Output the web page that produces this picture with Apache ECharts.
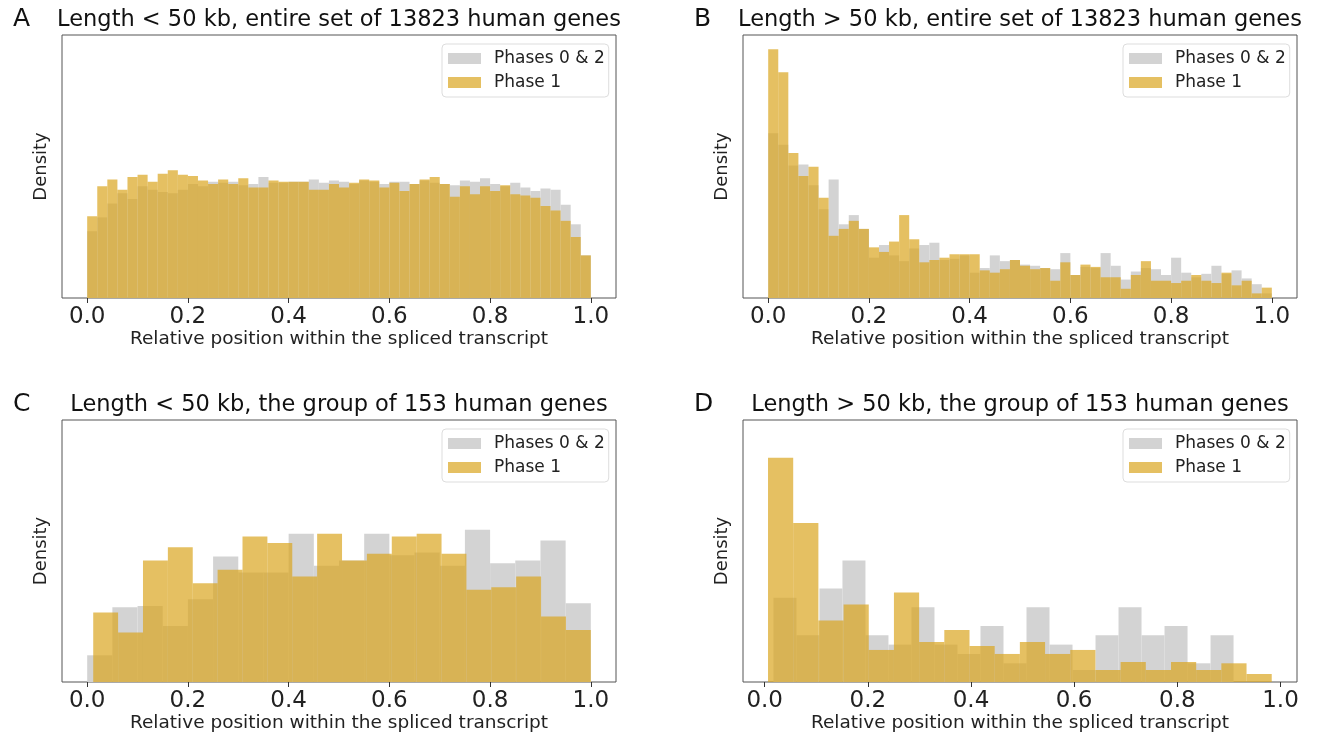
<!DOCTYPE html>
<html>
<head>
  <meta charset="utf-8">
  <title>Intron phase histograms</title>
  <script src="https://cdn.jsdelivr.net/npm/echarts@6.0.0/dist/echarts.min.js"></script>
</head>
<body style="margin:0;background:#fff">
  <div id="main" style="width:1323px;height:736px;"></div>
  <script type="text/javascript">
    // bin ranges [first edge, last edge], 50 or 20 equal bins each
    var rangeA = [0, 1], rangeB = [0, 1];
    var rangeGrayC = [0, 1], rangeGoldC = [0.012, 1];
    var rangeGrayD = [0.017, 0.909], rangeGoldD = [0.0065, 0.983];

    // densities
    var grayA = [0.58,0.70,0.82,0.91,0.86,0.97,0.94,0.92,0.91,0.94,
                 0.99,0.97,1.01,1.00,1.01,0.98,0.99,1.05,1.00,1.00,
                 1.01,1.01,1.03,1.00,1.02,1.01,0.99,1.02,1.01,0.99,
                 1.01,1.01,0.99,1.02,1.00,0.99,0.98,1.02,1.01,1.04,
                 0.99,0.97,1.00,0.96,0.93,0.95,0.94,0.81,0.64,0.37];
    var goldA = [0.71,0.97,1.03,0.94,1.05,1.07,1.01,1.08,1.11,1.07,
                 1.06,1.02,0.99,1.03,0.99,1.04,0.96,0.96,1.02,1.01,
                 1.01,1.01,0.94,0.94,0.99,0.96,1.00,1.03,1.02,0.96,
                 1.00,0.93,0.99,1.03,1.05,0.99,0.88,0.97,0.90,0.97,
                 0.93,0.98,0.90,0.89,0.87,0.80,0.76,0.67,0.53,0.37];
    var grayB = [1.43,1.33,1.15,1.16,0.98,0.77,1.03,0.64,0.72,0.60,
                 0.35,0.46,0.37,0.32,0.43,0.46,0.48,0.33,0.34,0.37,
                 0.22,0.26,0.37,0.32,0.33,0.29,0.28,0.26,0.25,0.39,
                 0.20,0.27,0.26,0.39,0.28,0.16,0.23,0.26,0.25,0.20,
                 0.35,0.22,0.18,0.21,0.28,0.21,0.24,0.17,0.12,0.04];
    var goldB = [2.16,1.96,1.26,1.06,1.14,0.87,0.54,0.60,0.67,0.60,
                 0.44,0.40,0.49,0.72,0.51,0.31,0.33,0.35,0.38,0.38,
                 0.38,0.24,0.22,0.25,0.33,0.28,0.25,0.26,0.15,0.31,
                 0.20,0.29,0.27,0.18,0.18,0.08,0.20,0.32,0.15,0.15,
                 0.13,0.15,0.20,0.15,0.13,0.22,0.11,0.15,0.04,0.09];
    var grayC = [0.20,0.56,0.57,0.42,0.62,0.94,0.82,0.82,1.11,0.87,
                 0.91,1.11,0.95,0.97,0.87,1.14,0.89,0.91,1.06,0.59];
    var goldC = [0.52,0.37,0.91,1.01,0.74,0.84,1.09,1.04,0.79,1.11,
                 0.91,0.96,1.09,1.11,0.96,0.69,0.71,0.79,0.49,0.39];
    var grayD = [0.63,0.35,0.70,0.91,0.35,0.28,0.56,0.28,0.21,0.42,
                 0.14,0.56,0.28,0.09,0.35,0.56,0.35,0.42,0.14,0.35];
    var goldD = [1.68,1.19,0.46,0.58,0.24,0.67,0.30,0.39,0.27,0.21,
                 0.30,0.21,0.24,0.09,0.15,0.09,0.15,0.09,0.14,0.06];

    var tickValues = [0, 0.2, 0.4, 0.6, 0.8, 1.0];
    var titles = [
      'Length < 50 kb, entire set of 13823 human genes',
      'Length > 50 kb, entire set of 13823 human genes',
      'Length < 50 kb, the group of 153 human genes',
      'Length > 50 kb, the group of 153 human genes'
    ];
    var letters = ['A', 'B', 'C', 'D'];

    var GRAY = '#d3d3d3', GOLD = '#daa520';
    var FONT = 'DejaVu Sans';

    function bins(range, values) {
      var w = (range[1] - range[0]) / values.length;
      return values.map(function (v, i) {
        return [range[0] + i * w, range[0] + (i + 1) * w, v];
      });
    }

    var panels = [
      { left: 62, top: 35, height: 263, xmin: -0.05, xmax: 1.05, ymax: 2.284,
        gray: bins(rangeA, grayA), gold: bins(rangeA, goldA) },
      { left: 743, top: 35, height: 263, xmin: -0.05, xmax: 1.05, ymax: 2.284,
        gray: bins(rangeB, grayB), gold: bins(rangeB, goldB) },
      { left: 62, top: 420, height: 262, xmin: -0.05, xmax: 1.05, ymax: 1.962,
        gray: bins(rangeGrayC, grayC), gold: bins(rangeGoldC, goldC) },
      { left: 743, top: 420, height: 262, xmin: -0.042, xmax: 1.032, ymax: 1.962,
        gray: bins(rangeGrayD, grayD), gold: bins(rangeGoldD, goldD) }
    ];
    var W = 554;

    function histItem(color, alpha) {
      return function (params, api) {
        var p0 = api.coord([api.value(0), api.value(2)]);
        var p1 = api.coord([api.value(1), 0]);
        return {
          type: 'rect',
          shape: { x: p0[0], y: p0[1], width: p1[0] - p0[0], height: p1[1] - p0[1] },
          style: { fill: color, opacity: alpha }
        };
      };
    }

    var grid = [], xAxis = [], yAxis = [], series = [], title = [], legend = [];
    panels.forEach(function (p, i) {
      grid.push({ left: p.left, top: p.top, width: W, height: p.height,
                  show: true, borderColor: '#555', borderWidth: 1, backgroundColor: '#fff' });
      xAxis.push({
        type: 'value', gridIndex: i, min: p.xmin, max: p.xmax,
        name: 'Relative position within the spliced transcript',
        nameLocation: 'middle', nameGap: 31,
        nameTextStyle: { fontFamily: FONT, fontSize: 18.5, color: '#222' },
        axisLine: { show: false },
        axisTick: { show: true, length: 5, lineStyle: { color: '#333' }, customValues: tickValues },
        axisLabel: { fontFamily: FONT, fontSize: 23, color: '#222', margin: 8,
                     customValues: tickValues,
                     formatter: function (v) { return v.toFixed(1); } },
        splitLine: { show: false }
      });
      yAxis.push({
        type: 'value', gridIndex: i, min: 0, max: p.ymax,
        name: 'Density', nameLocation: 'middle', nameGap: 12,
        nameTextStyle: { fontFamily: FONT, fontSize: 18, color: '#222' },
        axisLine: { show: false }, axisTick: { show: false },
        axisLabel: { show: false }, splitLine: { show: false }
      });
      series.push({
        name: 'Phases 0 & 2', type: 'custom', xAxisIndex: i, yAxisIndex: i,
        renderItem: histItem(GRAY, 1), itemStyle: { color: GRAY },
        encode: { x: [0, 1], y: 2 }, data: p.gray, silent: true
      });
      series.push({
        name: 'Phase 1', type: 'custom', xAxisIndex: i, yAxisIndex: i,
        renderItem: histItem(GOLD, 0.7), itemStyle: { color: GOLD, opacity: 0.7 },
        encode: { x: [0, 1], y: 2 }, data: p.gold, silent: true
      });
      title.push({
        text: titles[i], left: p.left + W / 2 - 5, top: p.top - 31, textAlign: 'center',
        textStyle: { fontFamily: FONT, fontSize: 22.5, fontWeight: 'normal', color: '#111' }
      });
      title.push({
        text: letters[i], left: p.left - 54, top: p.top - 33,
        textStyle: { fontFamily: FONT, fontSize: 25, fontWeight: 'normal', color: '#111' }
      });
      legend.push({
        data: ['Phases 0 & 2', 'Phase 1'], orient: 'vertical',
        left: p.left + 380, top: p.top + 9,
        icon: 'rect',
        itemWidth: 33, itemHeight: 11, itemGap: 7,
        padding: [6, 4, 6, 6],
        borderColor: '#ddd', borderWidth: 1, borderRadius: 4,
        backgroundColor: '#fff',
        selectedMode: false,
        textStyle: { fontFamily: FONT, fontSize: 17, color: '#222', padding: [0, 0, 0, 8] }
      });
    });

    var myChart = echarts.init(document.getElementById('main'));
    myChart.setOption({
      animation: false,
      backgroundColor: '#fff',
      title: title,
      legend: legend,
      grid: grid,
      xAxis: xAxis,
      yAxis: yAxis,
      series: series
    });
  </script>
</body>
</html>
